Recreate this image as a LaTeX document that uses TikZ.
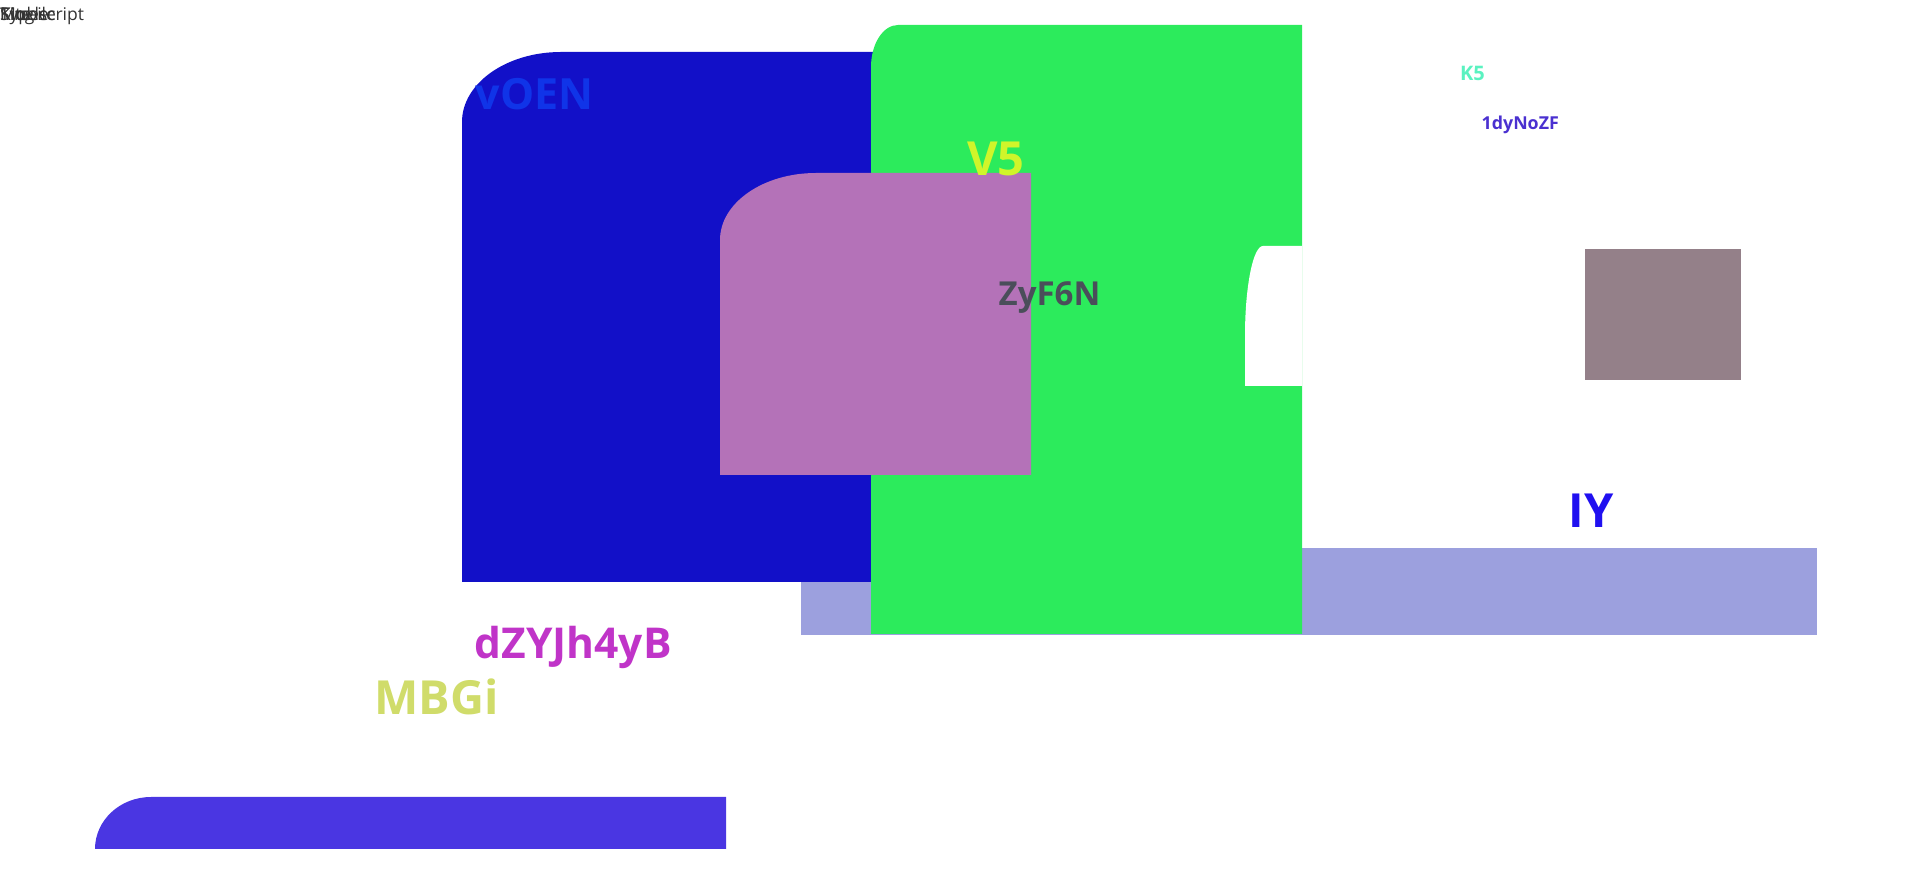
\documentclass[tikz,border=0pt]{standalone}
\usepackage{fontspec}
\setmainfont{Open Sans}
\definecolor{boxblue}{HTML}{1210C8}
\definecolor{boxgreen}{HTML}{2CEB5C}
\definecolor{boxmauve}{HTML}{B472B8}
\definecolor{bandlav}{HTML}{9CA0DE}
\definecolor{sqgray}{HTML}{948089}
\definecolor{barblue}{HTML}{4A36E2}
\definecolor{voencol}{HTML}{1034E8}
\definecolor{vfivecol}{HTML}{D0F52A}
\definecolor{zyfcol}{HTML}{4A4E5A}
\definecolor{kfivecol}{HTML}{5AF2C0}
\definecolor{dynocol}{HTML}{4A30D0}
\definecolor{iycol}{HTML}{2010F0}
\definecolor{dzycol}{HTML}{C034C8}
\definecolor{mbgicol}{HTML}{D0DC6A}
\definecolor{cornercol}{HTML}{333333}
\begin{document}
\begin{tikzpicture}[x=1pt,y=1pt,lbl/.style={anchor=base west,inner sep=0pt}]
\useasboundingbox (0,0) rectangle (1920,870);
%\draw[very thin,color=gray,step=100] (0,0) grid (1920,870);
\fill[bandlav] (801,235) rectangle (1817,322);
\fill[boxblue] (462,288) -- (462,748) arc[start angle=180,end angle=90,x radius=99,y radius=70] -- (900,818) -- (900,288) -- cycle;
\fill[boxgreen] (871,236) -- (871,803) arc[start angle=180,end angle=90,x radius=27,y radius=42] -- (1302,845) -- (1302,236) -- cycle;
\fill[white] (1245,484) -- (1245,534) arc[start angle=180,end angle=90,x radius=18,y radius=90] -- (1302,624) -- (1302,484) -- cycle;
\fill[boxmauve] (720,395) -- (720,630) arc[start angle=180,end angle=90,x radius=96,y radius=67] -- (1031,697) -- (1031,395) -- cycle;
\fill[sqgray] (1585,490) rectangle (1741,621);
\fill[barblue] (95,21) arc[start angle=180,end angle=90,x radius=56,y radius=52] -- (726,73) -- (726,21) -- cycle;
\node[lbl,font=\fontsize{43}{52}\selectfont\bfseries,color=voencol] (voen) at (475.6,760) {vOEN};
\node[lbl,font=\fontsize{47}{56}\selectfont\bfseries,color=vfivecol] (vfive) at (967,694) {V5};
\node[lbl,font=\fontsize{33}{40}\selectfont\bfseries,color=zyfcol] (zyf) at (998.5,564.5) {ZyF6N};
\node[lbl,font=\fontsize{20}{24}\selectfont\bfseries,color=kfivecol] (kfive) at (1460,789) {K5};
\node[lbl,font=\fontsize{17.8}{21}\selectfont\bfseries,color=dynocol] (dyno) at (1481.5,740.7) {1dyNoZF};
\node[lbl,font=\fontsize{47}{56}\selectfont\bfseries,color=iycol] (iy) at (1568.7,342.7) {IY};
\node[lbl,font=\fontsize{42.5}{51}\selectfont\bfseries,color=dzycol] (dzy) at (474.5,211) {dZYJh4yB};
\node[lbl,font=\fontsize{47}{56}\selectfont\bfseries,color=mbgicol] (mbgi) at (374,155) {MBGi};
% overlapping words in the corner
\foreach \w in {Single,Mobile,Kite,Typescript}
  \node[lbl,font=\fontsize{17.5}{21}\selectfont,color=cornercol] at (0,849) {\w};
\end{tikzpicture}
\end{document}
